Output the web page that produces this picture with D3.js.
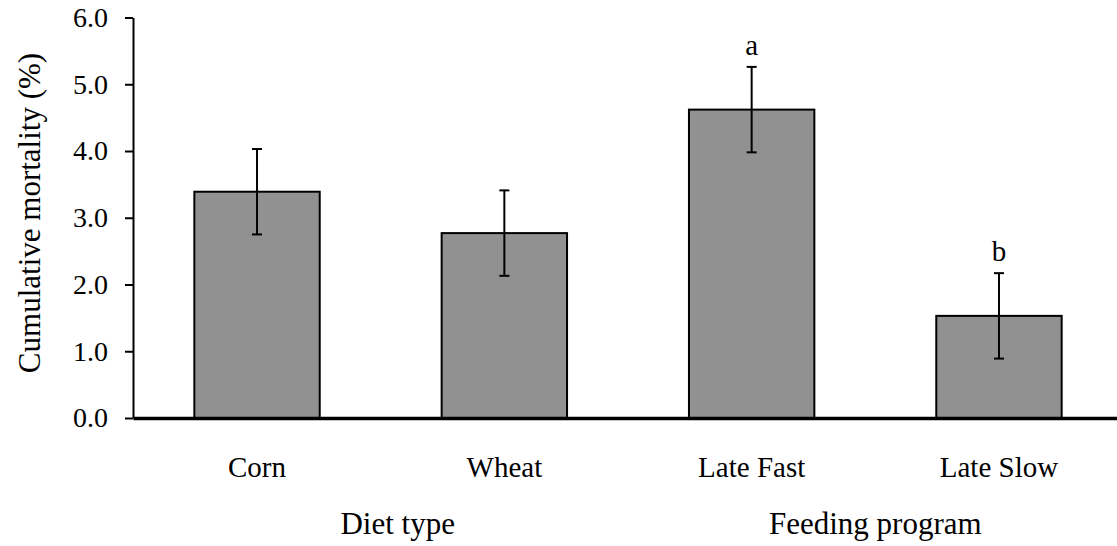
<!DOCTYPE html>
<html>
<head>
<meta charset="utf-8">
<script src="https://cdn.jsdelivr.net/npm/d3@7"></script>
<style>
  html, body { margin: 0; padding: 0; background: #fff; }
  svg { display: block; }
  text { font-family: "Liberation Serif", "Times New Roman", serif; fill: #000; }
</style>
</head>
<body>
<svg id="chart" width="1117" height="546"></svg>
<script>
const categories = ["Corn", "Wheat", "Late Fast", "Late Slow"];
const means = [3.39, 2.77, 4.62, 1.53];
const errors = [0.64, 0.64, 0.64, 0.64];
const letters = ["", "", "a", "b"];
const yTicks = [0, 1, 2, 3, 4, 5, 6];
const groups = [
  { name: "Diet type", members: ["Corn", "Wheat"] },
  { name: "Feeding program", members: ["Late Fast", "Late Slow"] }
];

const serif = "'Liberation Serif', 'Times New Roman', serif";
const svg = d3.select("#chart");
const x = d3.scaleBand().domain(categories).range([133, 1123]).paddingInner(0.493).paddingOuter(0.248);
const y = d3.scaleLinear().domain([0, 6]).range([418, 17.5]);

// Bars
svg.append("g").selectAll("rect").data(categories).join("rect")
  .attr("x", d => x(d))
  .attr("y", (d, i) => y(means[i]))
  .attr("width", x.bandwidth())
  .attr("height", (d, i) => y(0) - y(means[i]))
  .attr("fill", "#919191")
  .attr("stroke", "#000")
  .attr("stroke-width", 2);

// Error bars
const eb = svg.append("g").attr("stroke", "#000").attr("stroke-width", 2);
categories.forEach((c, i) => {
  const cx = x(c) + x.bandwidth() / 2;
  const top = y(means[i] + errors[i]);
  const bot = y(means[i] - errors[i]);
  eb.append("line").attr("x1", cx).attr("x2", cx).attr("y1", top).attr("y2", bot);
  eb.append("line").attr("x1", cx - 5).attr("x2", cx + 5).attr("y1", top).attr("y2", top);
  eb.append("line").attr("x1", cx - 5).attr("x2", cx + 5).attr("y1", bot).attr("y2", bot);
});

// Significance letters
svg.append("g").selectAll("text").data(categories).join("text")
  .attr("x", d => x(d) + x.bandwidth() / 2)
  .attr("y", (d, i) => y(means[i] + errors[i]) - 12)
  .attr("text-anchor", "middle")
  .style("font-family", serif)
  .attr("font-size", 29)
  .text((d, i) => letters[i]);

// Y axis
const yAxis = svg.append("g").attr("transform", "translate(133,0)")
  .call(d3.axisLeft(y).tickValues(yTicks).tickFormat(d3.format(".1f")).tickSize(8).tickSizeOuter(0).tickPadding(17));
yAxis.selectAll("path, line").attr("stroke", "#000").attr("stroke-width", 2);
yAxis.selectAll("text").attr("font-size", 28).style("font-family", serif);

// X axis
const xAxis = svg.append("g").attr("transform", "translate(0,418)")
  .call(d3.axisBottom(x).tickSize(0).tickSizeOuter(0).tickPadding(38));
xAxis.select(".domain").attr("stroke", "#000").attr("stroke-width", 3.5);
xAxis.selectAll("text").attr("font-size", 29).style("font-family", serif);

// Group titles
svg.append("g").selectAll("text").data(groups).join("text")
  .attr("x", (g, i) => d3.mean(g.members, m => x(m) + x.bandwidth() / 2) + (i === 0 ? 17 : 0))
  .attr("y", 534)
  .attr("text-anchor", "middle")
  .style("font-family", serif)
  .attr("font-size", 31)
  .text(g => g.name);

// Y axis title
svg.append("text")
  .attr("transform", "translate(40,213) rotate(-90)")
  .attr("text-anchor", "middle")
  .style("font-family", serif)
  .attr("font-size", 31)
  .text("Cumulative mortality (%)");
</script>
</body>
</html>
